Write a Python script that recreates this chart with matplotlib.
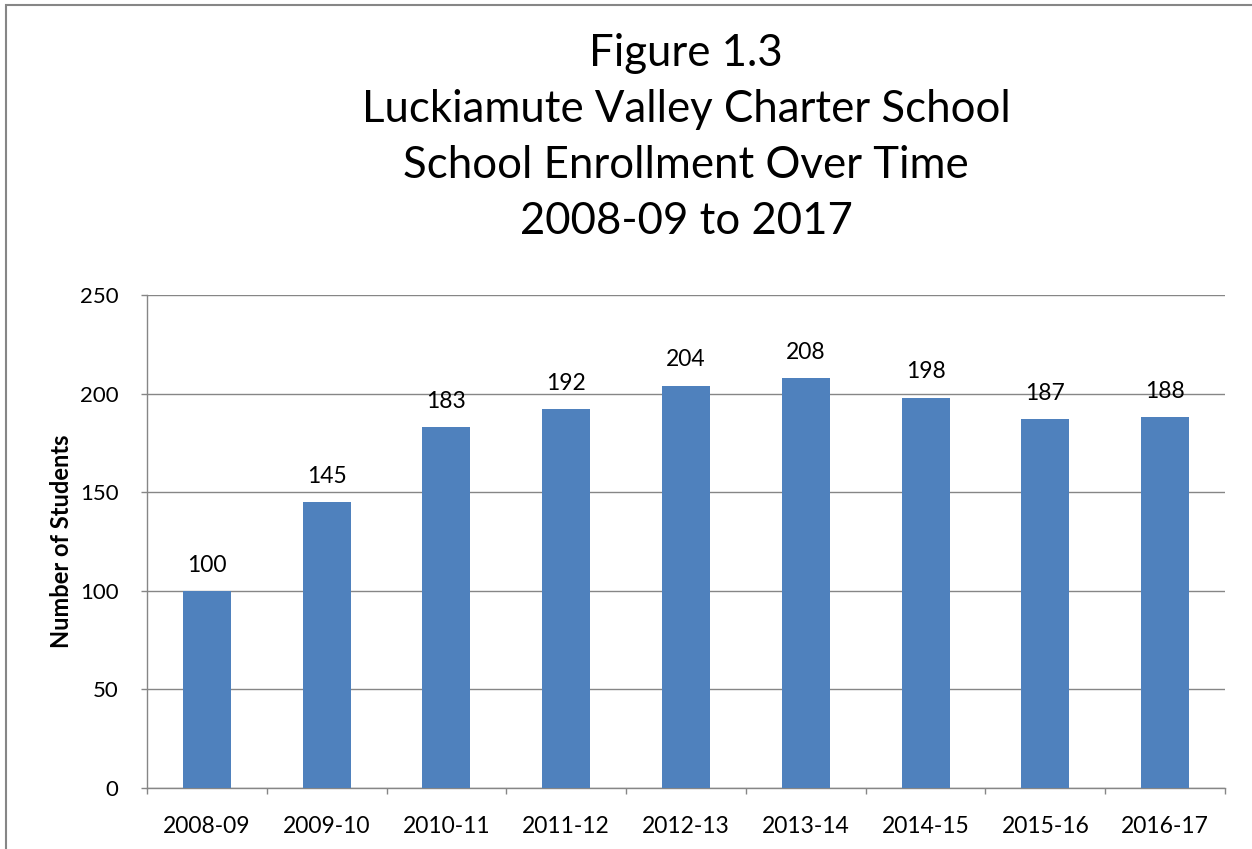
"""Bar chart of school enrollment over time, Excel 2010 style."""

import matplotlib.pyplot as plt
import numpy as np
from matplotlib.patches import Rectangle

years = ["2008-09", "2009-10", "2010-11", "2011-12", "2012-13",
         "2013-14", "2014-15", "2015-16", "2016-17"]
students = [100, 145, 183, 192, 204, 208, 198, 187, 188]
y_ticks = [0, 50, 100, 150, 200, 250]

title_lines = [
    "Figure 1.3",
    "Luckiamute Valley Charter School",
    "School Enrollment Over Time",
    "2008-09 to 2017",
]

plt.rcParams["font.family"] = ["Lato", "DejaVu Sans"]

W, H, DPI = 1252, 849, 100
fig = plt.figure(figsize=(W / DPI, H / DPI), dpi=DPI)

# frame around the whole chart area
fig.patches.append(Rectangle((6 / W, -0.01), 1.1, 1.0 - 5 / H + 0.01,
                             transform=fig.transFigure, fill=False,
                             edgecolor="#868686", linewidth=1.5))

left, right, top, bottom = 147, 1225, 295, 788
ax = fig.add_axes([left / W, 1 - bottom / H, (right - left) / W, (bottom - top) / H])

x = np.arange(len(years))
ax.bar(x, students, width=0.4, color="#4F81BD", zorder=3)

for xi, val in zip(x, students):
    ax.annotate(f"{val}", (xi, val), xytext=(0, 11), textcoords="offset points",
                ha="center", va="bottom", fontsize=16.5, color="black", zorder=4)

ax.set_xlim(-0.5, len(years) - 0.5)
ax.set_ylim(0, 250)
ax.set_yticks(y_ticks)
ax.tick_params(axis="y", length=4.5, width=1, color="#868686", labelsize=16, pad=16)

# category labels centered, tick marks between categories
ax.set_xticks(x)
ax.set_xticklabels(years, fontsize=16.5)
ax.tick_params(axis="x", which="major", length=0, pad=20)
ax.set_xticks(np.arange(-0.5, len(years)), minor=True)
ax.tick_params(axis="x", which="minor", length=4.5, width=1, color="#868686")

ax.grid(axis="y", color="#868686", linewidth=1, zorder=0)
for side in ["top", "right"]:
    ax.spines[side].set_visible(False)
for side in ["left", "bottom"]:
    ax.spines[side].set_color("#868686")
    ax.spines[side].set_linewidth(1)

ax.set_ylabel("Number of Students", fontsize=17, fontweight="bold", labelpad=5)

for i, line in enumerate(title_lines):
    fig.text((left + right) / 2 / W, 1 - (53 + i * 56.3) / H, line,
             ha="center", va="center", fontsize=31.5)

fig.savefig("out.png", dpi=DPI)
